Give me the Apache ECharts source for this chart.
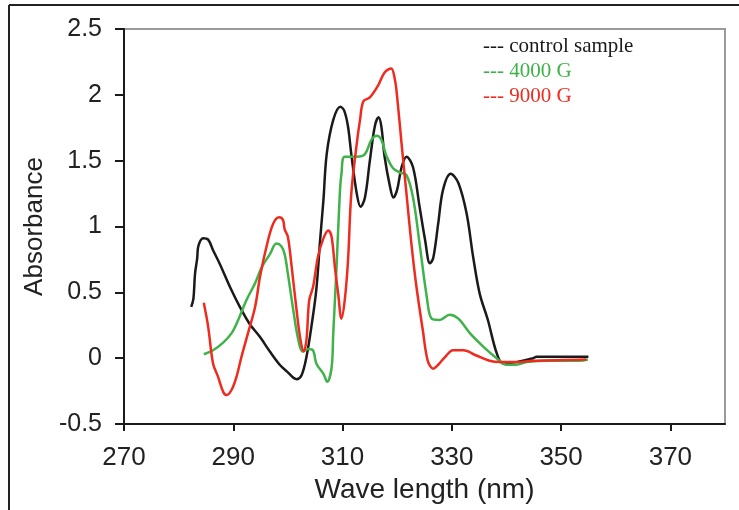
<!DOCTYPE html>
<html>
<head>
<meta charset="utf-8">
<script src="https://cdn.jsdelivr.net/npm/echarts@6/dist/echarts.min.js"></script>
<style>html,body{margin:0;padding:0;background:#fff;}#c{width:739px;height:510px;}</style>
</head>
<body>
<div id="c"></div>
<script>
// Wavelength (nm) and absorbance
const controlWl = [282.3,282.7,283.0,283.4,283.6,284.5,285.4,286.3,287.6,289.4,291.2,293.0,294.9,296.7,298.5,299.8,301.6,302.5,303.4,304.3,305.2,305.9,306.5,307.1,308.3,309.6,310.3,311.0,311.6,312.6,313.3,314.1,315.0,315.9,316.6,317.1,317.7,318.7,319.3,320.0,320.8,321.7,322.9,324.1,325.1,326.0,326.6,327.5,328.4,329.8,331.2,332.7,333.9,335.1,336.6,338.2,339.4,341.8,344.9,345.5,355.0];
const controlAbs = [0.39,0.45,0.64,0.76,0.85,0.91,0.90,0.82,0.71,0.54,0.39,0.26,0.16,0.05,-0.05,-0.10,-0.16,-0.13,0.01,0.24,0.52,0.90,1.20,1.55,1.81,1.91,1.88,1.76,1.55,1.25,1.15,1.22,1.50,1.76,1.83,1.76,1.53,1.30,1.22,1.28,1.45,1.53,1.45,1.15,0.90,0.72,0.76,1.02,1.28,1.40,1.33,1.10,0.77,0.49,0.29,0.04,-0.04,-0.03,0.00,0.01,0.01];

const g4000Wl = [284.6,286.3,288.2,289.7,290.9,292.4,294.0,295.2,296.7,297.9,298.8,299.4,300.0,301.0,301.9,302.7,303.7,304.6,305.2,306.5,307.2,308.0,308.3,308.9,309.5,309.8,310.4,312.6,314.1,315.3,316.3,317.1,318.0,319.3,320.5,321.7,322.9,324.1,325.4,326.3,327.8,329.6,331.2,333.3,335.7,338.2,340.0,341.8,343.7,347.9,353.4,354.9];
const g4000Abs = [0.03,0.06,0.12,0.19,0.29,0.44,0.57,0.69,0.79,0.87,0.85,0.79,0.64,0.36,0.14,0.05,0.07,0.06,-0.04,-0.12,-0.18,-0.07,0.19,0.69,1.25,1.40,1.53,1.53,1.55,1.66,1.69,1.66,1.54,1.44,1.41,1.39,1.22,0.87,0.47,0.30,0.29,0.33,0.30,0.19,0.09,0.00,-0.05,-0.05,-0.03,-0.02,-0.02,-0.01];

const g9000Wl = [284.6,285.4,286.3,287.2,288.2,288.8,289.7,290.6,291.5,292.7,294.0,294.9,296.1,297.3,298.4,299.1,299.4,300.0,300.7,301.6,302.3,302.9,303.4,303.9,304.6,305.5,306.5,307.4,308.0,308.6,309.2,309.8,310.4,311.0,311.6,312.6,313.2,313.8,315.0,316.5,317.7,318.9,319.6,320.0,320.8,321.7,322.6,323.5,324.7,325.6,326.6,327.5,329.0,330.2,332.1,334.5,336.9,338.8,341.8,344.9,354.6];
const g9000Abs = [0.42,0.24,-0.04,-0.14,-0.26,-0.28,-0.24,-0.14,0.01,0.19,0.39,0.62,0.85,1.02,1.07,1.05,0.98,0.92,0.69,0.36,0.14,0.05,0.14,0.44,0.54,0.77,0.91,0.97,0.92,0.69,0.49,0.30,0.44,0.74,1.25,1.63,1.81,1.95,1.98,2.07,2.17,2.20,2.11,1.98,1.63,1.25,0.87,0.55,0.21,-0.02,-0.08,-0.05,0.02,0.06,0.06,0.02,-0.02,-0.03,-0.03,-0.02,-0.01];

const seriesNames = ['control sample', '4000 G', '9000 G'];
const xTicks = [270, 290, 310, 330, 350, 370];

function pairs(xs, ys) { return xs.map((x, i) => [x, ys[i]]); }

const colors = ['#1a1a1a', '#3fb34a', '#ef2b1f'];
const chart = echarts.init(document.getElementById('c'), null, {renderer: 'canvas'});
const sans = "'Liberation Sans', Arial, sans-serif";
const serif = "'Liberation Serif', 'Times New Roman', serif";

chart.setOption({
  animation: false,
  backgroundColor: '#ffffff',
  grid: {left: 124, right: 14, top: 29, bottom: 86, show: true, borderColor: '#9a9a9a', borderWidth: 2, backgroundColor: 'transparent'},
  legend: {
    left: 473, top: 31, orient: 'vertical', itemWidth: 0, itemHeight: 0, itemGap: 4, icon: 'none',
    selectedMode: false,
    formatter: n => '--- ' + n,
    textStyle: {fontFamily: serif, fontSize: 21},
    data: seriesNames.map((n, i) => ({name: n, textStyle: {color: colors[i]}}))
  },
  xAxis: {
    type: 'value', min: 270, max: 380,
    name: 'Wave length (nm)', nameLocation: 'middle', nameGap: 52,
    nameTextStyle: {fontFamily: sans, fontSize: 28, color: '#222'},
    axisLine: {show: true, onZero: false, lineStyle: {color: '#1a1a1a', width: 2}},
    axisTick: {show: true, inside: false, length: 7, lineStyle: {color: '#1a1a1a', width: 2}, customValues: xTicks},
    axisLabel: {fontFamily: sans, fontSize: 26, color: '#222', margin: 21, customValues: xTicks},
    splitLine: {show: false}
  },
  yAxis: {
    type: 'value', min: -0.5, max: 2.5, interval: 0.5,
    name: 'Absorbance', nameLocation: 'middle', nameGap: 75, nameRotate: 90,
    nameTextStyle: {fontFamily: sans, fontSize: 26, color: '#222'},
    axisLine: {show: true, onZero: false, lineStyle: {color: '#1a1a1a', width: 2}},
    axisTick: {show: true, inside: false, length: 9, lineStyle: {color: '#1a1a1a', width: 2}},
    axisLabel: {fontFamily: sans, fontSize: 25, color: '#222', margin: 22},
    splitLine: {show: false}
  },
  graphic: [
    {type: 'line', shape: {x1: 9, y1: 5, x2: 739, y2: 5}, style: {stroke: '#222', lineWidth: 2}},
    {type: 'line', shape: {x1: 9, y1: 5, x2: 9, y2: 510}, style: {stroke: '#222', lineWidth: 2}}
  ],
  series: [
    {name: seriesNames[0], type: 'line', data: pairs(controlWl, controlAbs)},
    {name: seriesNames[1], type: 'line', data: pairs(g4000Wl, g4000Abs)},
    {name: seriesNames[2], type: 'line', data: pairs(g9000Wl, g9000Abs)}
  ].map((s, i) => Object.assign(s, {
    showSymbol: false, symbol: 'none', smooth: 0.35,
    lineStyle: {color: colors[i], width: 2.5}, itemStyle: {color: colors[i]}, z: 3 + i
  }))
});
</script>
</body>
</html>
